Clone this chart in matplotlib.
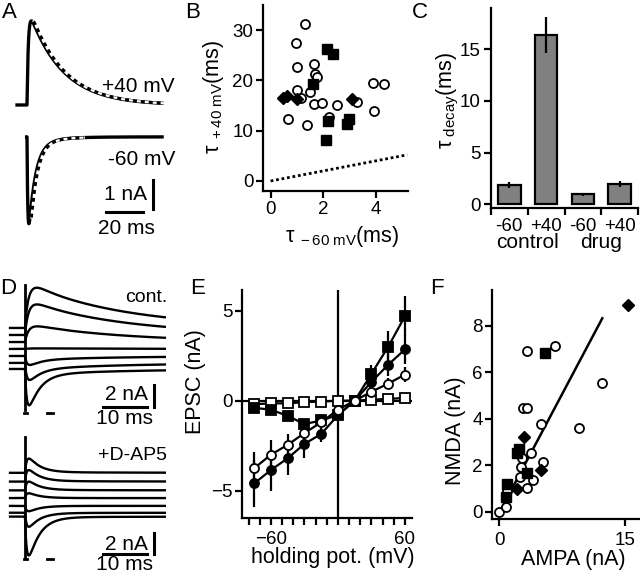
import numpy as np
import matplotlib.pyplot as plt

plt.rcParams['font.family'] = ['Liberation Sans', 'DejaVu Sans']
plt.rcParams['mathtext.fontset'] = 'custom'
plt.rcParams['mathtext.rm'] = 'Liberation Sans'
plt.rcParams['mathtext.it'] = 'Liberation Sans'
plt.rcParams['axes.linewidth'] = 1.6
for k in ('xtick', 'ytick'):
    plt.rcParams[k + '.major.width'] = 1.6
    plt.rcParams[k + '.minor.width'] = 1.6
    plt.rcParams[k + '.major.size'] = 5
    plt.rcParams[k + '.minor.size'] = 5
    plt.rcParams[k + '.labelsize'] = 13.5
    plt.rcParams[k + '.major.pad'] = 2

# ---- data ----
# A: example EPSCs (amplitude nA, rise/decay ms)
a_pos_amp, a_pos_rise, a_pos_decay = 2.9, 0.7, 18.0
a_neg_amp, a_neg_rise, a_neg_decay = -2.75, 0.4, 3.6
a_neg_slow_amp, a_neg_slow_decay = -0.25, 12.0
a_neg_offset = -1.1

# B: tau at +40 vs tau at -60
b_circ_x = [1.31, 0.96, 1.01, 1.65, 1.69, 1.78, 1.02, 1.49, 1.14, 1.66, 1.95, 2.51,
            0.65, 1.38, 2.23, 3.28, 3.89, 4.32, 3.95]
b_circ_y = [31.2, 27.4, 22.7, 23.3, 21.3, 20.7, 18.1, 17.6, 16.6, 15.4, 15.6, 15.1,
            12.4, 11.2, 12.8, 15.8, 19.4, 19.3, 13.9]
b_sq_x = [2.13, 2.39, 1.61, 2.19, 2.09, 2.98, 2.90]
b_sq_y = [26.3, 25.2, 19.3, 12.0, 8.2, 12.4, 11.3]
b_dia_x = [0.46, 0.63, 0.99, 3.10]
b_dia_y = [16.6, 17.0, 16.4, 16.4]
unity = [0, 5.2]

# C: decay time constants
c_labels = ['-60', '+40', '-60', '+40']
c_groups = ['control', 'drug']
c_mean = [1.85, 16.4, 0.97, 2.0]
c_err = [0.3, 1.75, 0.15, 0.3]

# D: families of EPSCs (baseline, AMPA amp, NMDA amp) in nA
d1_base = [3.73, 3.09, 2.45, 1.82, 1.18, 0.55, 0.0]
d1_ampa = [0.5, 0.35, 0.15, 0.0, -0.6, -1.2, -3.0]
d1_nmda = [3.4, 2.6, 1.35, 0.05, -0.3, -0.5, -0.45]
d2_base = [4.09, 3.27, 2.45, 1.73, 1.0, 0.36, 0.0]
d2_ampa = [1.3, 1.05, 0.8, 0.45, -0.5, -1.3, -3.6]
d2_nmda = [0.05, 0.04, 0.03, 0.0, 0.0, -0.02, -0.05]
d1_artifact = [-3.73, 7.64]
d2_artifact = [-3.73, 7.45]

# E: I-V relations
e_v = [-75, -60, -45, -30, -15, 0, 15, 30, 45, 60]
e_sq_f = [-0.4, -0.5, -0.85, -1.3, -1.1, -0.8, 0.0, 1.5, 3.0, 4.7]
e_sq_f_err = [0.1, 0.15, 0.15, 0.3, 0.25, 0.2, 0.05, 0.5, 0.85, 1.1]
e_ci_f = [-4.6, -3.85, -3.2, -2.4, -1.85, -0.8, 0.0, 1.05, 2.0, 2.85]
e_ci_f_err = [1.3, 1.15, 0.95, 0.8, 0.45, 0.2, 0.05, 0.6, 0.65, 0.8]
e_ci_o = [-3.75, -3.0, -2.45, -1.8, -1.2, -0.5, 0.0, 0.5, 0.95, 1.45]
e_ci_o_err = [0.9, 0.8, 0.6, 0.45, 0.3, 0.15, 0.05, 0.2, 0.3, 0.4]
e_sq_o = [-0.2, -0.15, -0.15, -0.08, -0.05, 0.0, 0.0, 0.05, 0.1, 0.15]

# F: NMDA vs AMPA amplitude
f_circ_x = [0.0, 0.8, 0.95, 3.34, 6.65, 12.3, 2.87, 3.34, 4.94, 9.47, 3.78, 2.74,
            2.58, 5.17, 3.98, 3.27, 2.47]
f_circ_y = [0.0, 0.22, 0.9, 6.91, 7.13, 5.52, 4.45, 4.45, 3.76, 3.6, 2.54, 2.32,
            1.94, 2.12, 1.36, 1.0, 1.48]
f_sq_x = [5.45, 2.39, 2.07, 0.95, 0.8, 3.34]
f_sq_y = [6.84, 2.68, 2.51, 1.19, 0.65, 1.65]
f_dia_x = [15.4, 2.95, 4.94, 2.07]
f_dia_y = [8.89, 3.23, 1.79, 0.96]
f_fit_x = [0.3, 12.3]
f_fit_slope, f_fit_icpt = 0.68, -0.04

W, H = 640, 576
fig = plt.figure(figsize=(W / 100, H / 100), dpi=100)


def rect(l, t, r, b):
    return [l / W, 1 - b / H, (r - l) / W, (b - t) / H]


def ftext(x, y, s, **kw):
    kw.setdefault('fontsize', 15)
    kw.setdefault('va', 'center')
    fig.text(x / W, 1 - y / H, s, **kw)


def kernel(t, rise, decay):
    tt = np.clip(t, 0, None)
    k = np.where(t > 0, np.exp(-tt / decay) - np.exp(-tt / rise), 0.0)
    return k / k.max()


def clean(ax):
    for s in ('top', 'right'):
        ax.spines[s].set_visible(False)


def fit_overlay(ax, x, y):
    # fitted curve drawn as black/white dashes next to the trace
    ax.plot(x, y, color='white', lw=1.6)
    ax.plot(x, y, color='k', lw=2.2, ls=(0, (1.3, 1.3)))


# ---- A ----
axA = fig.add_axes(rect(0, 0, 200, 250))
axA.axis('off')
axA.set_xlim(-14.6, 93.5)
axA.set_ylim(-5.0, 3.62)
t = np.linspace(-5.4, 73, 1500)
pos = a_pos_amp * kernel(t, a_pos_rise, a_pos_decay)
axA.plot(t, pos, 'k', lw=2.4)
m = t > 2.8
fit_overlay(axA, t[m] + 0.7, pos[m])
t2 = np.linspace(-0.2, 73, 1500)
neg = (a_neg_offset + a_neg_amp * kernel(t2, a_neg_rise, a_neg_decay)
       + a_neg_slow_amp * kernel(t2, a_neg_rise, a_neg_slow_decay))
axA.plot(t2, neg, 'k', lw=2.4)
m2 = (t2 > 1.6) & (t2 < 30)
fit_overlay(axA, t2[m2] + 0.7, neg[m2])
axA.plot([68, 68], [-2.59, -3.59], 'k', lw=2.2)
axA.plot([42.7, 62.7], [-3.69, -3.69], 'k', lw=2.2)
ftext(175, 86, '+40 mV', ha='right')
ftext(175, 159, '-60 mV', ha='right')
ftext(147, 194, '1 nA', ha='right')
ftext(126, 229, '20 ms', ha='center')

# ---- B ----
axB = fig.add_axes(rect(263, 5, 408, 191))
clean(axB)
axB.plot(unity, unity, color='k', lw=2, ls=(0, (1, 1)))
axB.plot(b_circ_x, b_circ_y, 'o', ms=6.5, mfc='white', mec='k', mew=1.3, clip_on=False)
axB.plot(b_sq_x, b_sq_y, 's', ms=6.5, color='k')
axB.plot(b_dia_x, b_dia_y, 'D', ms=6, color='k')
axB.set_xlim(-0.29, 5.23)
axB.set_ylim(-1.99, 35)
axB.set_xticks([0, 2, 4])
axB.set_yticks([0, 10, 20, 30])
ftext(214, 97, r'τ$_{\ +40\ \mathrm{mV}}$(ms)', rotation=90, ha='center', fontsize=15.5)
ftext(342, 237, r'τ$_{\ -60\ \mathrm{mV}}$(ms)', ha='center', fontsize=15.5)

# ---- C ----
axC = fig.add_axes(rect(490.7, 8, 638.3, 208))
clean(axC)
cpos = np.arange(len(c_mean)) + 0.5
axC.bar(cpos, c_mean, width=0.62, color='#808080', edgecolor='k', linewidth=1.6,
        yerr=c_err, error_kw=dict(elinewidth=1.6, capsize=0, ecolor='k'))
axC.set_xlim(0, 4)
axC.set_ylim(-0.36, 19)
axC.set_yticks([0, 5, 10, 15])
axC.set_xticks(range(5))
axC.set_xticklabels([])
axC.set_xticks(cpos, minor=True)
axC.set_xticklabels(c_labels, minor=True)
axC.tick_params(axis='x', which='minor', length=0, pad=7)
for i, g in enumerate(c_groups):
    gx = cpos[2 * i:2 * i + 2].mean()
    axC.text(gx, -0.2, g, transform=axC.get_xaxis_transform(), ha='center',
             va='baseline', fontsize=15)
ftext(448, 100, r'τ$_{\ \mathrm{decay}}$(ms)', rotation=90, ha='center', fontsize=15.5)

# ---- D ----
d_t = np.linspace(-3.4, 31.8, 1200)
fast = kernel(d_t, 0.4, 2.5)
slow = kernel(d_t, 1.0, 22.0)
for rr, base, amp_a, amp_n, art, lab, ly in [
        ((0, 280, 200, 430), d1_base, d1_ampa, d1_nmda, d1_artifact, 'cont.', 298),
        ((0, 430, 200, 576), d2_base, d2_ampa, d2_nmda, d2_artifact, '+D-AP5', 456)]:
    ax = fig.add_axes(rect(*rr))
    ax.axis('off')
    ax.set_xlim(-5.68, 39.8)
    ax.set_ylim(-5.55, 8.09)
    for b, a, n in zip(base, amp_a, amp_n):
        ax.plot(d_t, b + a * fast + n * slow, 'k', lw=1.7)
    ax.plot([0, 0], art, 'k', lw=2)
    ax.plot([29.3, 29.3], [-1.5, -3.5], 'k', lw=2.2)
    ax.plot([17.7, 27.7], [-3.5, -3.5], 'k', lw=2.2)
    ax.plot([-0.2, 0.5], [-4.0, -4.0], 'k', lw=2)
    ax.plot([5.0, 6.4], [-4.0, -4.0], 'k', lw=2)
    top = rr[1]
    ftext(167, ly, lab, ha='right', fontsize=14)
    ftext(148, top + 114, '2 nA', ha='right')
    ftext(124, min(top + 139, 564), '10 ms', ha='center')

# ---- E ----
axE = fig.add_axes(rect(242.3, 290, 411.7, 518))
clean(axE)
axE.axhline(0, color='k', lw=1.6)
axE.axvline(0, color='k', lw=1.6)
ekw = dict(color='k', ms=6.5, lw=1.6, elinewidth=1.6, capsize=0, mew=1.3)
axE.errorbar(e_v, e_sq_f, yerr=e_sq_f_err, fmt='-s', **ekw)
axE.errorbar(e_v, e_ci_f, yerr=e_ci_f_err, fmt='-o', **ekw)
axE.errorbar(e_v, e_ci_o, yerr=e_ci_o_err, fmt='-o', mfc='white', **ekw)
axE.plot(e_v, e_sq_o, '-s', color='k', ms=6.5, lw=1.6, mfc='white', mew=1.3)
axE.set_xlim(-85.7, 66)
axE.set_ylim(-6.52, 6.15)
axE.set_xticks([-60, 60])
axE.set_xticks(range(-80, 61, 10), minor=True)
axE.set_yticks([-5, 0, 5])
axE.tick_params(axis='x', pad=4)
ftext(196, 382, 'EPSC (nA)', rotation=90, ha='center', fontsize=15.5)
ftext(333, 557, 'holding pot. (mV)', ha='center', fontsize=15.5)

# ---- F ----
axF = fig.add_axes(rect(492.3, 290, 640, 519.3))
clean(axF)
fx = np.array(f_fit_x)
axF.plot(fx, f_fit_slope * fx + f_fit_icpt, 'k', lw=1.8)
axF.plot(f_circ_x, f_circ_y, 'o', ms=6.5, mfc='white', mec='k', mew=1.3)
axF.plot(f_sq_x, f_sq_y, 's', ms=6.5, color='k')
axF.plot(f_dia_x, f_dia_y, 'D', ms=6, color='k', clip_on=False)
axF.set_xlim(-0.84, 16.8)
axF.set_ylim(-0.33, 9.54)
axF.set_xticks([0, 15])
axF.set_yticks([0, 2, 4, 6, 8])
axF.tick_params(axis='x', pad=4)
ftext(455, 431, 'NMDA (nA)', rotation=90, ha='center', fontsize=15.5)
ftext(573, 560, 'AMPA (nA)', ha='center', fontsize=15.5)

# panel letters
for L, x, y in [('A', 2, 12), ('B', 185, 12), ('C', 412, 12),
                ('D', 0, 289), ('E', 190, 288), ('F', 430, 288)]:
    ftext(x, y, L, ha='left', fontsize=16)

fig.savefig('out.png', dpi=100)
